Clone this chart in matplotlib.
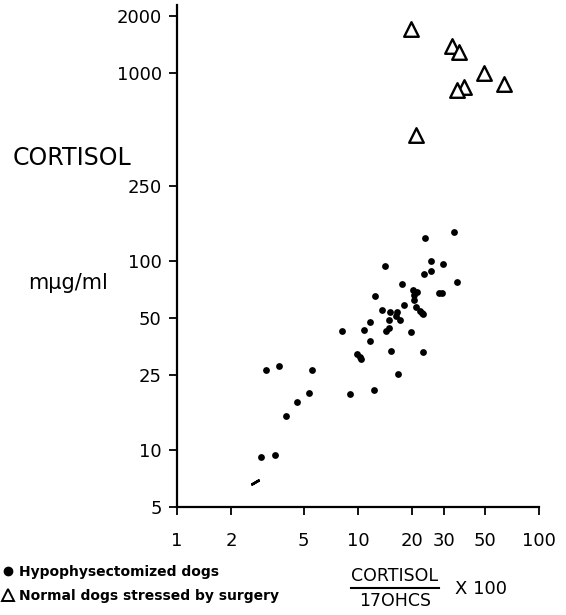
import matplotlib
matplotlib.use("Agg")
import matplotlib.pyplot as plt
from matplotlib.lines import Line2D

# ---- data ----
hypo_x = [23.5, 34.0, 14.1, 25.4, 29.6, 23.3, 25.3, 17.6, 35.1, 20.1, 21.2, 20.4,
          28.2, 29.1, 12.35, 20.4, 18.0, 21.0, 13.5, 15.1, 16.5, 21.9, 22.6, 23.0,
          16.2, 17.0, 14.86, 11.6, 14.9, 14.2, 10.8, 8.2, 19.55, 11.7, 9.9, 10.2,
          10.35, 15.2, 22.85, 16.6, 3.1, 3.68, 5.6, 5.36, 4.61, 4.0, 9.07, 12.3,
          2.92, 3.49]
hypo_y = [133.6, 143.6, 95.1, 100.2, 96.9, 85.8, 89.2, 76.3, 77.4, 70.2, 69.0, 66.7,
          67.7, 68.2, 65.3, 62.4, 58.7, 57.5, 55.2, 54.1, 54.2, 54.5, 53.0, 52.4,
          51.5, 48.9, 48.9, 47.6, 44.2, 42.7, 43.1, 42.6, 42.1, 37.9, 32.3, 31.2,
          30.2, 33.4, 32.9, 25.3, 26.6, 27.9, 26.4, 20.1, 17.9, 15.2, 19.7, 20.8,
          9.19, 9.38]
faint_x = [2.71]
faint_y = [6.72]

stress_x = [19.7, 33.0, 36.3, 49.7, 64.0, 38.6, 35.1, 20.8]
stress_y = [1718, 1396, 1288, 1004, 871, 846, 812, 469]

x_ticks = [1, 2, 5, 10, 20, 30, 50, 100]
x_ticklabels = ["1", "2", "5", "10", "20", "30", "50", "100"]
y_ticks = [5, 10, 25, 50, 100, 250, 1000, 2000]
y_ticklabels = ["5", "10", "25", "50", "100", "250", "1000", "2000"]

legend_labels = ["Hypophysectomized dogs", "Normal dogs stressed by surgery"]

# ---- figure ----
plt.rcParams['font.family'] = ['DejaVu Sans']
fig = plt.figure(figsize=(5.66, 6.15), dpi=100)
ax = fig.add_axes([177/566, 1-506.5/615, 362/566, 501.6/615])

ax.set_xscale('log')
ax.set_yscale('log')

ax.scatter(hypo_x, hypo_y, s=24, c='black', marker='o', linewidths=0, zorder=3)
ax.scatter(faint_x, faint_y, s=30, c='black', marker=(2, 2, -60), linewidths=1.8,
           zorder=3)
ax.scatter(stress_x, stress_y, s=110, facecolors='white', edgecolors='black',
           marker='^', linewidths=1.7, zorder=3)

ax.set_xlim(1, 100)
ax.set_ylim(5, 2300)

for side in ['top', 'right']:
    ax.spines[side].set_visible(False)
ax.spines['left'].set_linewidth(1.6)
ax.spines['bottom'].set_linewidth(1.6)

ax.set_xticks(x_ticks)
ax.set_xticklabels(x_ticklabels)
ax.set_yticks(y_ticks)
ax.set_yticklabels(y_ticklabels)
ax.minorticks_off()
ax.tick_params(axis='y', direction='out', length=6, width=1.3, pad=5, labelsize=13)
ax.tick_params(axis='x', direction='out', length=6, width=1.3, pad=12, labelsize=13)

# axis titles
fig.text(13/566, 1-158/615, "CORTISOL", fontsize=17, ha='left', va='center')
fig.text(28/566, 1-283/615, "m\u03bcg/ml", fontsize=15, ha='left', va='center')

# x label as fraction
fx = 395/566
fig.text(fx, 1-576/615, "CORTISOL", fontsize=12.5, ha='center', va='center')
fig.add_artist(Line2D([351/566, 439/566], [1-588/615, 1-588/615], color='black', lw=1.5))
fig.text(fx, 1-601/615, "17OHCS", fontsize=12.5, ha='center', va='center')
fig.text(455/566, 1-589/615, "X 100", fontsize=13, ha='left', va='center')

# legend
handles = [Line2D([], [], marker='o', linestyle='none', color='black', markersize=6),
           Line2D([], [], marker='^', linestyle='none', markerfacecolor='white',
                  markeredgecolor='black', markeredgewidth=1.4, markersize=9)]
fig.legend(handles, legend_labels, loc='center left',
           bbox_to_anchor=(0.0, 1-584/615),
           frameon=False, handletextpad=0.3, handlelength=1.0,
           labelspacing=0.7, borderaxespad=0, borderpad=0.1,
           prop={'weight': 'bold', 'size': 10})

fig.savefig("out.png", dpi=100)
